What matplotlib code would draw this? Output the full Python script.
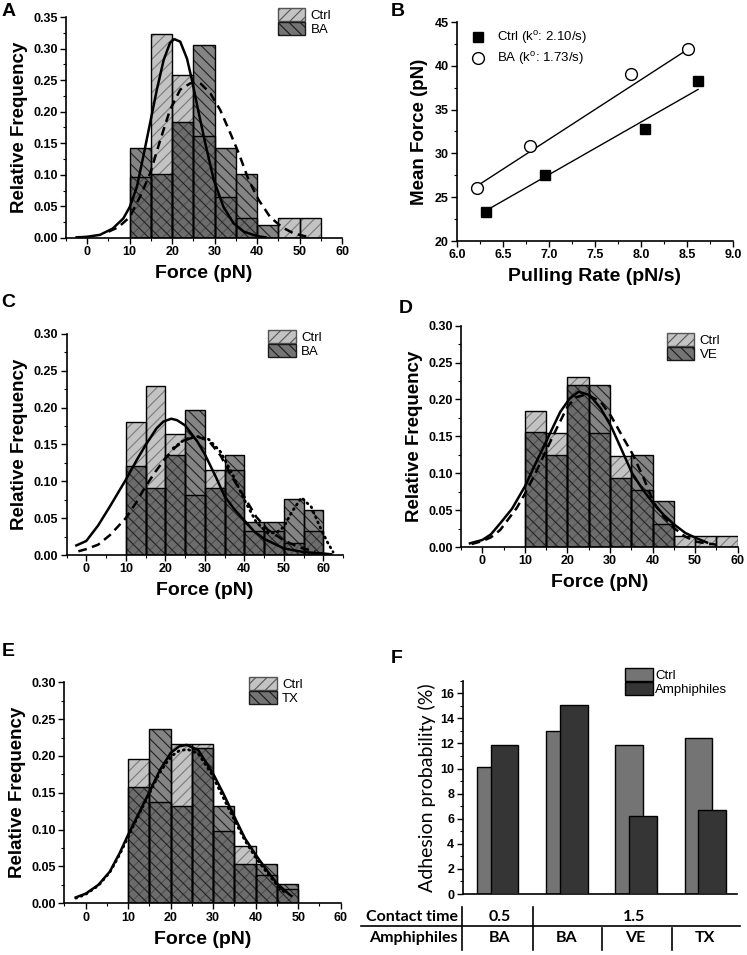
import numpy as np
import matplotlib
matplotlib.use("Agg")
import matplotlib.pyplot as plt
from matplotlib.patches import Patch
from matplotlib.lines import Line2D
from matplotlib.ticker import MultipleLocator, FormatStrFormatter

plt.rcParams["font.family"] = ["Liberation Sans", "DejaVu Sans"]
plt.rcParams["font.weight"] = "bold"
plt.rcParams["axes.labelweight"] = "bold"
plt.rcParams["mathtext.fontset"] = "custom"
plt.rcParams["mathtext.rm"] = "Liberation Sans"
plt.rcParams["hatch.linewidth"] = 0.8

# ----------------------------------------------------------------------
# data
# ----------------------------------------------------------------------
# (A) rupture force histograms, Ctrl vs BA, 5 pN bins (left edges)
a_edges = [10, 15, 20, 25, 30, 35, 40, 45, 50]
a_ctrl = [0.097, 0.323, 0.258, 0.161, 0.065, 0.032, 0.0, 0.032, 0.032]
a_ba = [0.143, 0.102, 0.184, 0.306, 0.143, 0.102, 0.020, 0.0, 0.0]
a_fit_ctrl_x = [-2.5, 0, 3, 6, 8.5, 10, 11.7, 13.2, 14.8, 16.4, 18, 19.5, 20.5,
                21.9, 23.5, 24.6, 26.2, 27.8, 29.8, 32.1, 34.5, 36.9, 40, 42]
a_fit_ctrl_y = [0.001, 0.002, 0.005, 0.015, 0.031, 0.049, 0.081, 0.129, 0.182,
                0.235, 0.282, 0.309, 0.315, 0.311, 0.284, 0.252, 0.200, 0.150,
                0.092, 0.049, 0.023, 0.010, 0.003, 0.001]
a_fit_ba_x = [5, 7.3, 10, 12.4, 14.8, 17.2, 19.5, 21.9, 24.3, 25.5, 26.8, 29,
              31.3, 33.7, 35.7, 38, 40.4, 43.1, 45.9, 48.7, 51.8]
a_fit_ba_y = [0.010, 0.017, 0.033, 0.065, 0.102, 0.155, 0.203, 0.235, 0.245,
              0.246, 0.244, 0.229, 0.203, 0.166, 0.134, 0.092, 0.060, 0.033,
              0.017, 0.007, 0.002]

# (B) mean force vs pulling rate
b_ctrl_rate = [6.31, 6.96, 8.04, 8.62]
b_ctrl_force = [23.3, 27.5, 32.75, 38.3]
b_ba_rate = [6.22, 6.79, 7.89, 8.51]
b_ba_force = [26.1, 30.8, 39.1, 41.9]
b_ctrl_fit_rate = [6.32, 8.62]
b_ctrl_fit_force = [23.5, 37.3]
b_ba_fit_rate = [6.22, 8.49]
b_ba_fit_force = [26.3, 41.75]

# (C) Ctrl vs BA
c_edges = [10, 15, 20, 25, 30, 35, 40, 45, 50, 55]
c_ctrl = [0.180, 0.230, 0.164, 0.082, 0.115, 0.115, 0.033, 0.033, 0.016, 0.033]
c_ba = [0.121, 0.091, 0.136, 0.197, 0.091, 0.136, 0.045, 0.045, 0.076, 0.061]
c_fit_ctrl_x = [-2.5, 0, 3, 6, 8, 10, 13, 15, 17.8, 19.5, 21.5, 23, 25, 28, 30,
                32.8, 35, 37.5, 40, 42.5, 45, 50, 55, 60, 62]
c_fit_ctrl_y = [0.013, 0.019, 0.040, 0.066, 0.084, 0.102, 0.131, 0.149, 0.172,
                0.181, 0.185, 0.183, 0.176, 0.155, 0.137, 0.106, 0.080, 0.062,
                0.047, 0.032, 0.022, 0.009, 0.004, 0.002, 0.001]
c_fit_ba_x = [-2, 0, 3, 6, 10, 12.5, 15, 17.5, 20, 22.5, 25, 28, 31, 34, 37, 40,
              43, 46, 50, 54, 58]
c_fit_ba_y = [0.005, 0.008, 0.014, 0.027, 0.050, 0.070, 0.093, 0.113, 0.131,
              0.146, 0.156, 0.161, 0.155, 0.135, 0.105, 0.079, 0.052, 0.034,
              0.020, 0.010, 0.005]
c_fit_ba2_x = [22, 25, 28, 31, 34, 37, 40, 43, 46, 48, 50, 52, 54.5, 57, 59, 61,
               62.5]
c_fit_ba2_y = [0.145, 0.157, 0.161, 0.157, 0.140, 0.110, 0.075, 0.045, 0.030,
               0.030, 0.038, 0.058, 0.078, 0.065, 0.040, 0.018, 0.004]

# (D) Ctrl vs VE
d_edges = [10, 15, 20, 25, 30, 35, 40, 45, 50, 55]
d_ctrl = [0.185, 0.154, 0.231, 0.154, 0.123, 0.077, 0.031, 0.015, 0.015, 0.015]
d_ve = [0.156, 0.125, 0.219, 0.219, 0.094, 0.125, 0.063, 0.0, 0.0, 0.0]
d_fit_ctrl_x = [-2.9, 0, 2, 4.2, 7, 10, 12.5, 15, 18.3, 20.5, 22.6, 25.2, 27.8,
                30.3, 32.8, 35.2, 37.8, 40.2, 42.7, 45.2, 47.7, 50.3, 52.8]
d_fit_ctrl_y = [0.005, 0.0095, 0.017, 0.032, 0.052, 0.082, 0.113, 0.143, 0.183,
                0.201, 0.2105, 0.206, 0.188, 0.163, 0.131, 0.100, 0.077, 0.059,
                0.043, 0.030, 0.019, 0.012, 0.006]
d_fit_ve_x = [-2.5, 0, 2, 4.2, 8.1, 10, 12.5, 15, 17.5, 20, 22, 24.5, 27.8, 30.3,
              33.2, 35.2, 37.8, 40.2, 42.6, 45.2, 47.7, 50.4, 55.1]
d_fit_ve_y = [0.004, 0.008, 0.013, 0.023, 0.053, 0.072, 0.100, 0.131, 0.161,
              0.190, 0.203, 0.207, 0.197, 0.177, 0.147, 0.127, 0.095, 0.061,
              0.041, 0.025, 0.014, 0.007, 0.003]

# (E) Ctrl vs TX
e_edges = [10, 15, 20, 25, 30, 35, 40, 45]
e_ctrl = [0.196, 0.137, 0.216, 0.216, 0.098, 0.078, 0.039, 0.020]
e_tx = [0.158, 0.237, 0.132, 0.211, 0.132, 0.053, 0.053, 0.026]
e_fit_ctrl_x = [-2.3, 0, 3, 5.7, 8, 10, 12.5, 15, 17.5, 20, 22, 23.8, 26.5, 30,
                32.4, 35, 37.5, 40, 42.6, 45, 47.6, 48.4]
e_fit_ctrl_y = [0.008, 0.013, 0.025, 0.043, 0.068, 0.093, 0.122, 0.151, 0.181,
                0.204, 0.213, 0.215, 0.208, 0.176, 0.149, 0.1175, 0.088, 0.066,
                0.045, 0.027, 0.0136, 0.010]
e_fit_tx_x = [-2.3, 0, 3, 5.7, 8, 10, 12.5, 15, 17.5, 20, 22, 24, 26.5, 29.5, 32,
              35, 37.5, 40, 42.6, 45, 47.3]
e_fit_tx_y = [0.007, 0.012, 0.024, 0.042, 0.066, 0.090, 0.120, 0.149, 0.178,
              0.199, 0.207, 0.209, 0.203, 0.177, 0.148, 0.113, 0.085, 0.062,
              0.042, 0.025, 0.012]

# (F) adhesion probability
f_groups = [1, 2, 3, 4]
f_ctrl = [10.1, 13.0, 11.9, 12.4]
f_amph = [11.9, 15.1, 6.2, 6.7]
f_contact = ["0.5", "1.5"]
f_amph_names = ["BA", "BA", "VE", "TX"]

# ----------------------------------------------------------------------
W, H = 747, 955
fig = plt.figure(figsize=(W / 100, H / 100), dpi=100)


def rect(left, top, right, bottom):
    return [left / W, 1 - bottom / H, (right - left) / W, (bottom - top) / H]


CTRL_FACE = "#c3c3c3"
CTRL_HATCH = "#7a7a7a"
TREAT_FACE = (0.2, 0.2, 0.2, 0.6)
TREAT_HATCH = "#222222"


def style_axes(ax):
    for s in ("top", "right"):
        ax.spines[s].set_visible(False)
    for s in ("left", "bottom"):
        ax.spines[s].set_linewidth(1.2)
    ax.tick_params(which="major", direction="out", length=4, width=1,
                   labelsize=9, pad=2)
    ax.tick_params(which="minor", direction="out", length=2.2, width=0.8)
    for t in ax.get_xticklabels() + ax.get_yticklabels():
        t.set_fontweight("bold")


def hist_panel(r, edges, ctrl, treat, name, xmax, ymax, fits, leg_xy):
    ax = fig.add_axes(r)
    ax.bar(edges, ctrl, width=5, align="edge", facecolor=CTRL_FACE,
           edgecolor=CTRL_HATCH, hatch="///", lw=0, zorder=1)
    ax.bar(edges, treat, width=5, align="edge", facecolor=TREAT_FACE,
           edgecolor=TREAT_HATCH, hatch="\\\\\\", lw=0, zorder=2)
    for vals in (ctrl, treat):
        ax.bar(edges, vals, width=5, align="edge", fill=False,
               edgecolor="black", lw=1.0, zorder=3)
    for fx, fy, ls in fits:
        if ls == "dotted":
            ax.plot(fx, fy, color="black", lw=2.0, ls=(0, (0.4, 1.6)),
                    dash_capstyle="round", zorder=4)
        elif ls == "dashed":
            ax.plot(fx, fy, color="black", lw=1.8, ls=(0, (3.5, 2.2)), zorder=4)
        else:
            ax.plot(fx, fy, color="black", lw=1.8, zorder=4)
    ax.set_xlim(-5, xmax)
    ax.set_ylim(0, ymax)
    ax.xaxis.set_major_locator(MultipleLocator(10))
    ax.xaxis.set_minor_locator(MultipleLocator(5))
    ax.yaxis.set_major_locator(MultipleLocator(0.05))
    ax.yaxis.set_minor_locator(MultipleLocator(0.025))
    ax.yaxis.set_major_formatter(FormatStrFormatter("%.2f"))
    style_axes(ax)
    ax.set_xlabel("Force (pN)", fontsize=14, labelpad=5)
    ax.set_ylabel("Relative Frequency", fontsize=13.5, labelpad=4)
    handles = [Patch(facecolor=CTRL_FACE, edgecolor="#555555", hatch="///",
                     label="Ctrl"),
               Patch(facecolor="#747474", edgecolor="#1a1a1a", hatch="\\\\\\",
                     label=name)]
    ax.legend(handles=handles, loc="upper left", bbox_to_anchor=leg_xy,
              frameon=False, prop={"weight": "normal", "size": 9.5},
              handlelength=2.1, handleheight=1.15, labelspacing=0,
              borderpad=0, borderaxespad=0, handletextpad=0.4)
    return ax


# A
hist_panel(rect(66, 17, 342, 238), a_edges, a_ctrl, a_ba, "BA", 60, 0.35,
           [(a_fit_ctrl_x, a_fit_ctrl_y, "solid"),
            (a_fit_ba_x, a_fit_ba_y, "dashed")], (0.767, 1.04))

# C
hist_panel(rect(66.5, 334, 343, 555), c_edges, c_ctrl, c_ba, "BA", 65, 0.30,
           [(c_fit_ctrl_x, c_fit_ctrl_y, "solid"),
            (c_fit_ba_x, c_fit_ba_y, "dashed"),
            (c_fit_ba2_x, c_fit_ba2_y, "dotted")], (0.73, 1.02))

# D
hist_panel(rect(461, 325.7, 737.7, 547), d_edges, d_ctrl, d_ve, "VE", 60, 0.30,
           [(d_fit_ctrl_x, d_fit_ctrl_y, "solid"),
            (d_fit_ve_x, d_fit_ve_y, "dashed")], (0.743, 0.968))

# E
hist_panel(rect(64.3, 682.3, 340.7, 903.3), e_edges, e_ctrl, e_tx, "TX", 60, 0.30,
           [(e_fit_ctrl_x, e_fit_ctrl_y, "solid"),
            (e_fit_tx_x, e_fit_tx_y, "dotted")], (0.669, 1.025))

# B
axb = fig.add_axes(rect(457, 22, 733, 241))
axb.plot(b_ba_fit_rate, b_ba_fit_force, color="black", lw=1)
axb.plot(b_ctrl_fit_rate, b_ctrl_fit_force, color="black", lw=1)
h1, = axb.plot(b_ctrl_rate, b_ctrl_force, "s", color="black", ms=7,
               label="Ctrl (k$^{\\mathregular{o}}$: 2.10/s)")
h2, = axb.plot(b_ba_rate, b_ba_force, "o", mfc="white", mec="black", ms=8.5,
               mew=1, label="BA (k$^{\\mathregular{o}}$: 1.73/s)")
axb.set_xlim(6.0, 9.0)
axb.set_ylim(20, 45)
axb.xaxis.set_major_locator(MultipleLocator(0.5))
axb.xaxis.set_minor_locator(MultipleLocator(0.25))
axb.xaxis.set_major_formatter(FormatStrFormatter("%.1f"))
axb.yaxis.set_major_locator(MultipleLocator(5))
axb.yaxis.set_minor_locator(MultipleLocator(2.5))
style_axes(axb)
axb.set_xlabel("Pulling Rate (pN/s)", fontsize=14, labelpad=5)
axb.set_ylabel("Mean Force (pN)", fontsize=13.5, labelpad=5)
axb.legend(handles=[h1, h2], loc="upper left", bbox_to_anchor=(0.01, 0.99),
           frameon=False, prop={"weight": "normal", "size": 9.5},
           handletextpad=0.4, labelspacing=0.3, borderaxespad=0)

# F
axf = fig.add_axes(rect(462.7, 680.7, 736.7, 894))
g = np.array(f_groups, dtype=float)
axf.bar(g - 0.1, f_ctrl, width=0.4, color="#747474", edgecolor="black", lw=1,
        zorder=2, label="Ctrl")
axf.bar(g + 0.1, f_amph, width=0.4, color="#353535", edgecolor="black", lw=1,
        zorder=3, label="Amphiphiles")
axf.set_xlim(0.494, 4.454)
axf.set_ylim(0, 17)
axf.set_xticks([])
axf.yaxis.set_major_locator(MultipleLocator(2))
axf.yaxis.set_minor_locator(MultipleLocator(1))
style_axes(axf)
axf.set_ylabel("Adhesion probability (%)", fontsize=14, family="Lato",
               fontweight="normal", labelpad=3)
axf.legend(loc="upper left", bbox_to_anchor=(0.592, 1.058), frameon=False,
           prop={"weight": "normal", "size": 9.5}, handlelength=2.1,
           handleheight=1.1, labelspacing=0, borderpad=0, borderaxespad=0,
           handletextpad=0.2)


# table under F
def px_line(x0, y0, x1, y1, lw=1.2):
    fig.add_artist(Line2D([x0 / W, x1 / W], [1 - y0 / H, 1 - y1 / H],
                          color="black", lw=lw))


def px_text(x, y, s, ha="center"):
    fig.text(x / W, 1 - y / H, s, ha=ha, va="center", fontsize=11.5,
             family="Lato", fontweight="bold")


px_line(361, 926, 740, 926)
px_line(461.7, 907, 461.7, 950)
px_line(533.3, 907, 533.3, 950)
px_line(601.7, 928, 601.7, 950)
px_line(671.7, 928, 671.7, 950)
px_text(458, 916.5, "Contact time", ha="right")
px_text(458, 938, "Amphiphiles", ha="right")
px_text(500, 916.5, f_contact[0])
px_text(634, 916.5, f_contact[1])
for cx, name in zip([500, 567, 635, 705], f_amph_names):
    px_text(cx, 938, name)

# panel letters
for lx, ly, s in [(9, 12, "A"), (398, 12, "B"), (8, 302, "C"), (406, 308, "D"),
                  (8, 652, "E"), (397, 658, "F")]:
    fig.text(lx / W, 1 - ly / H, s, ha="center", va="center", fontsize=14,
             fontweight="bold")

fig.savefig("out.png", dpi=100)
